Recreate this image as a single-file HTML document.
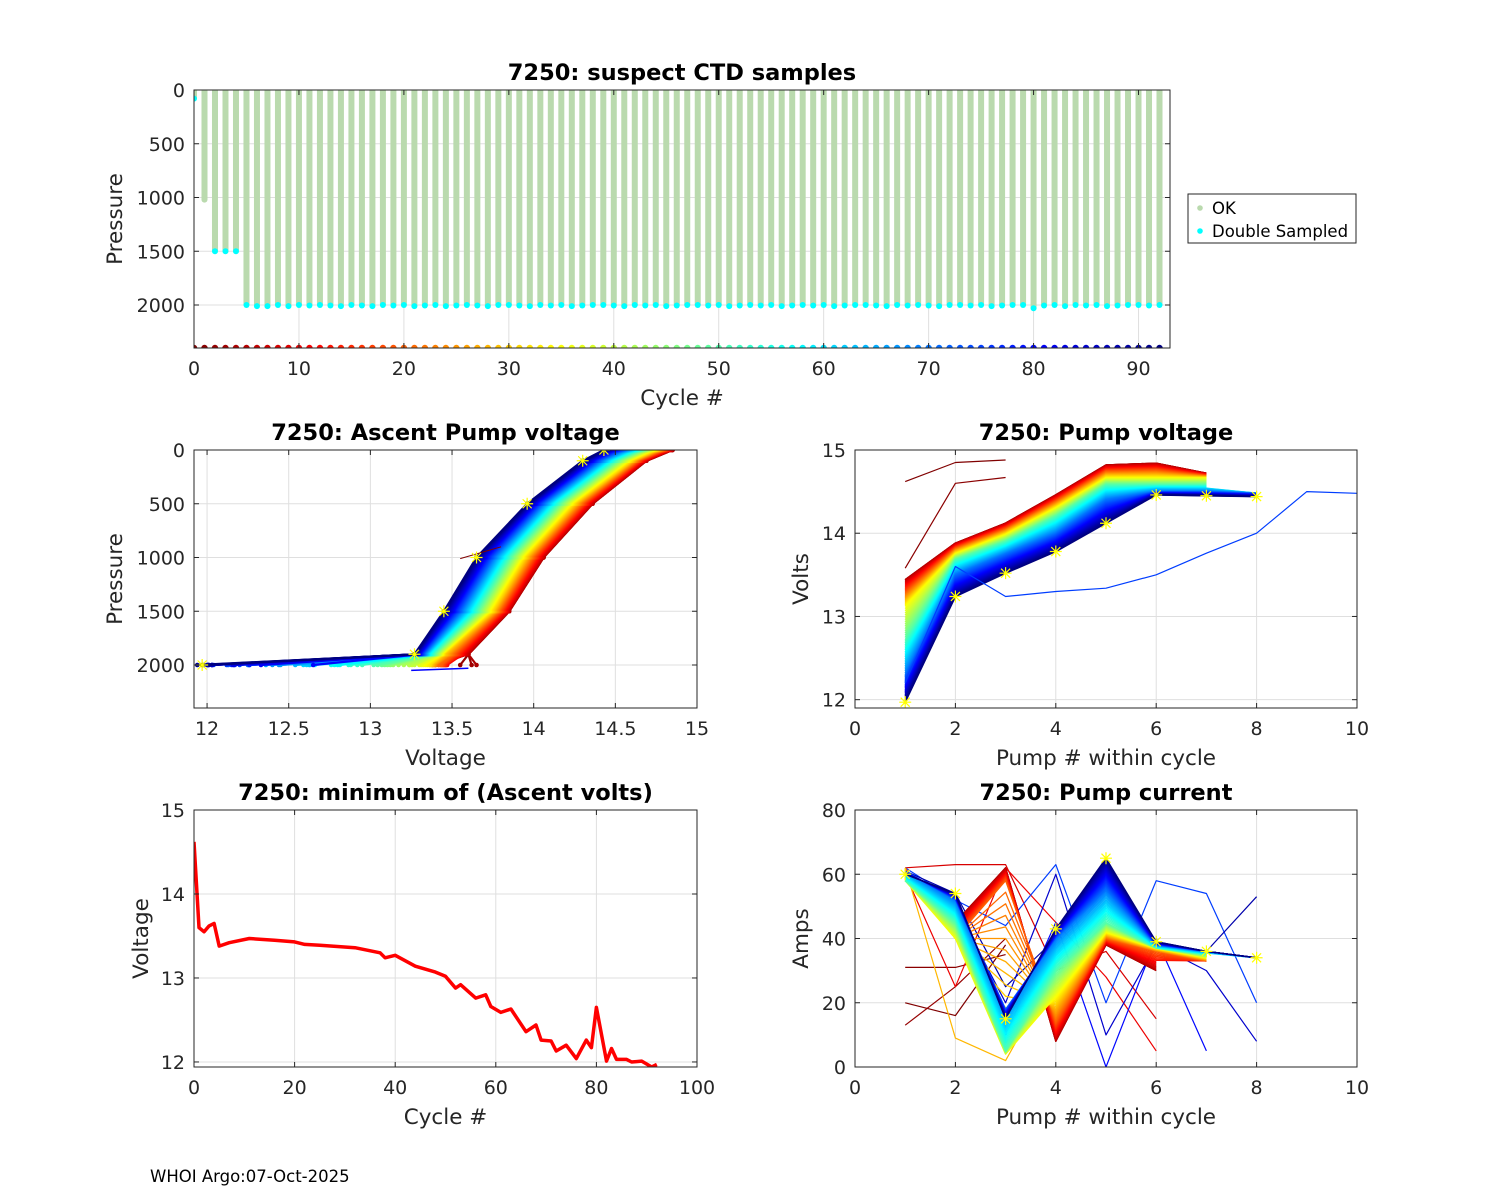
<!DOCTYPE html>
<html><head><meta charset="utf-8"><style>
html,body{margin:0;padding:0;background:#fff}
svg{display:block;font-family:"DejaVu Sans","Liberation Sans",sans-serif}
</style></head><body>
<svg id="fig" width="1500" height="1200" viewBox="0 0 1500 1200" xmlns="http://www.w3.org/2000/svg">
<rect width="1500" height="1200" fill="#fff"/>
<text x="150" y="1182" font-size="16.5" fill="#000">WHOI Argo:07-Oct-2025</text>
</svg>
<script>
// ---------- DATA ----------
const cycleNums = Array.from({length:93},(_,i)=>i);
const maxPressure = [80,1020,1500,1500,1500,2000,2010,2010,2000,2010,2000,2005,2000,2005,2010,2000,2005,2010,2000,2005,2000,2010,2005,2000,2010,2005,2000,2005,2010,2000,2000,2005,2010,2000,2005,2000,2010,2005,2000,2000,2005,2010,2000,2005,2000,2010,2005,2000,2000,2005,2000,2010,2005,2000,2005,2000,2010,2005,2000,2005,2000,2010,2005,2000,2000,2005,2010,2000,2005,2000,2005,2010,2000,2000,2005,2000,2010,2005,2000,2000,2030,2005,2000,2010,2000,2005,2000,2010,2005,2000,2000,2005,2000];
const minCycles = [0,1,2,3,4,5,7,11,16,20,22,25,32,37,38,40,44,48,50,52,53,56,58,59,61,63,66,68,69,71,72,74,76,78,79,80,82,83,84,86,87,89,91,92];
const minVolts  = [14.62,13.6,13.55,13.62,13.65,13.38,13.42,13.47,13.45,13.43,13.4,13.39,13.36,13.3,13.24,13.27,13.14,13.07,13.02,12.88,12.92,12.76,12.8,12.66,12.59,12.63,12.36,12.44,12.26,12.25,12.13,12.2,12.04,12.26,12.17,12.65,12.01,12.16,12.03,12.03,12.0,12.01,11.94,11.97];
// Ascent profiles (pressure vs voltage)
const profPress = [2000,1900,1500,1000,500,100,0];
const profKeyCycles = [5,30,60,92];
const profKey5  = [null,13.6,13.85,14.06,14.36,14.69,14.85];
const profKey30 = [null,13.45,13.75,13.95,14.25,14.6,14.75];
const profKey60 = [null,13.35,13.6,13.8,14.1,14.45,14.6];
const profKey92 = [null,13.27,13.45,13.65,13.96,14.3,14.43];
// Pump voltage by pump #
const pvKeyCycles = [5,35,50,70,92];
const pvKey5  = [13.44,13.88,14.12,14.46,14.82,14.84,14.72];
const pvKey35 = [13.12,13.75,13.98,14.3,14.66,14.66,14.66];
const pvKey50 = [12.72,13.68,13.9,14.2,14.58,14.58,14.58];
const pvKey70 = [12.3,13.5,13.75,14.0,14.4,14.5,14.5,14.48];
const pvKey92 = [11.97,13.24,13.52,13.78,14.12,14.46,14.45,14.44];
const pvOutCycles = [0,1,75];
const pvOut0 = [14.62,14.85,14.88];
const pvOut1 = [13.58,14.6,14.67];
const pvOut75 = [12.2,13.6,13.24,13.3,13.34,13.5,13.76,14.0,14.5,14.48];
// Pump current by pump #
const pcKeyCycles = [5,20,35,50,70,92];
const pcKey5  = [60,45,62,8,38,30];
const pcKey20 = [62,40,58,14,40,36,33];
const pcKey35 = [58,40,4,22,42,37,34];
const pcKey50 = [58,45,5,30,45,37,35];
const pcKey70 = [61,52,18,40,55,38,36,34];
const pcKey92 = [60,54,15,43,65,39,36,34];
const pcOutCycles = [0,1,2,8,10,28,75,80,85,88];
const pcOut0 = [20,16,38];
const pcOut1 = [31,31,35];
const pcOut2 = [13,25,40];
const pcOut8 = [62,63,63,30,36,15];
const pcOut10 = [60,25,62,45,28,5];
const pcOut28 = [62,9,2,30,40,36];
const pcOut75 = [62,52,44,63,20,58,54,20];
const pcOut80 = [60,52,10,45,0,40,5];
const pcOut85 = [60,50,20,60,10,38,30,8];
const pcOut88 = [61,54,25,40,55,39,36,53];

// ---------- HELPERS ----------
const NS='http://www.w3.org/2000/svg';
const svg=document.getElementById('fig');
function mk(tag,attrs,parent){const e=document.createElementNS(NS,tag);for(const k in attrs)e.setAttribute(k,attrs[k]);(parent||svg).appendChild(e);return e;}
function clamp(v){return Math.max(0,Math.min(1,v));}
function jet(t){const r=clamp(1.5-Math.abs(4*t-3)),g=clamp(1.5-Math.abs(4*t-2)),b=clamp(1.5-Math.abs(4*t-1));return `rgb(${Math.round(r*255)},${Math.round(g*255)},${Math.round(b*255)})`;}
function cyc(c){return jet(1-c/92);}
function lerp(a,b,f){return a+(b-a)*f;}
function interpKeys(keys,arrs,c){
  if(c<=keys[0])return arrs[0].slice();
  for(let i=0;i<keys.length-1;i++){
    if(c<=keys[i+1]){const f=(c-keys[i])/(keys[i+1]-keys[i]);const A=arrs[i],B=arrs[i+1];
      const n=f<0.5?A.length:B.length;const out=[];
      for(let j=0;j<n;j++){const a=j<A.length?A[j]:B[j],b=j<B.length?B[j]:A[j];out.push(a==null?null:lerp(a,b,f));}
      return out;}
  }
  return arrs[arrs.length-1].slice();
}
function interp1(xs,ys,x){if(x<=xs[0])return ys[0];for(let i=0;i<xs.length-1;i++){if(x<=xs[i+1]){const f=(x-xs[i])/(xs[i+1]-xs[i]);return lerp(ys[i],ys[i+1],f);}}return ys[ys.length-1];}

let clipId=0;
function makeAxes(o){
  const g=mk('g',{});
  
  
  const sx=v=>o.x0+(v-o.xmin)/(o.xmax-o.xmin)*(o.x1-o.x0);
  const sy=v=>o.yrev? o.y0+(v-o.ymin)/(o.ymax-o.ymin)*(o.y1-o.y0) : o.y1-(v-o.ymin)/(o.ymax-o.ymin)*(o.y1-o.y0);
  mk('rect',{x:o.x0,y:o.y0,width:o.x1-o.x0,height:o.y1-o.y0,fill:'#fff'},g);
  const grid=mk('g',{stroke:'#dfdfdf','stroke-width':1},g);
  
  
  o.xticks.forEach(t=>mk('line',{x1:sx(t),x2:sx(t),y1:o.y0,y2:o.y1},grid));
  o.yticks.forEach(t=>mk('line',{x1:o.x0,x2:o.x1,y1:sy(t),y2:sy(t)},grid));
  const id='clip'+(clipId++);
  const cp=mk('clipPath',{id:id},g);mk('rect',{x:o.x0,y:o.y0,width:o.x1-o.x0,height:o.y1-o.y0},cp);
  const plot=mk('g',{'clip-path':`url(#${id})`},g);
  
  
  const finish=()=>{
    const fr=mk('g',{stroke:'#262626','stroke-width':1,fill:'none'},g);
    mk('rect',{x:o.x0,y:o.y0,width:o.x1-o.x0,height:o.y1-o.y0},fr);
    o.xticks.forEach(t=>{mk('line',{x1:sx(t),x2:sx(t),y1:o.y1,y2:o.y1-5},fr);mk('line',{x1:sx(t),x2:sx(t),y1:o.y0,y2:o.y0+5},fr);});
    o.yticks.forEach(t=>{mk('line',{x1:o.x0,x2:o.x0+5,y1:sy(t),y2:sy(t)},fr);mk('line',{x1:o.x1,x2:o.x1-5,y1:sy(t),y2:sy(t)},fr);});
    o.xticks.forEach(t=>{const e=mk('text',{x:sx(t),y:o.y1+27,'text-anchor':'middle','font-size':19,fill:'#262626'},g);e.textContent=String(t);
      });
    o.yticks.forEach(t=>{const e=mk('text',{x:o.x0-9,y:sy(t)+7,'text-anchor':'end','font-size':19,fill:'#262626'},g);e.textContent=String(t);
      });
    const tt=mk('text',{x:(o.x0+o.x1)/2,y:o.y0-10,'text-anchor':'middle','font-size':22.5,'font-weight':'bold',fill:'#000'},g);tt.textContent=o.title;
    
    const xl=mk('text',{x:(o.x0+o.x1)/2,y:o.y1+57,'text-anchor':'middle','font-size':21.5,fill:'#262626'},g);xl.textContent=o.xlabel;
    
    const yl=mk('text',{transform:`translate(${o.ylx},${(o.y0+o.y1)/2}) rotate(-90)`,'text-anchor':'middle','font-size':21.5,fill:'#262626'},g);yl.textContent=o.ylabel;
    
  };
  return {g,plot,sx,sy,finish};
}
function polyline(parent,pts,color,w,name){
  const p=mk('polyline',{points:pts.map(q=>q[0].toFixed(1)+','+q[1].toFixed(1)).join(' '),fill:'none',stroke:color,'stroke-width':w,'stroke-linejoin':'round'},parent);
  
  
  return p;
}
function star(parent,x,y){
  const s=mk('path',{d:`M${x-6},${y}H${x+6}M${x},${y-6}V${y+6}M${x-4.5},${y-4.5}L${x+4.5},${y+4.5}M${x-4.5},${y+4.5}L${x+4.5},${y-4.5}`,stroke:'#ffff00','stroke-width':1.2,fill:'none'},parent);
  
  
}

// ---------- TOP: suspect CTD samples ----------
(function(){
  const A=makeAxes({name:'suspect-ctd-chart',x0:194,x1:1170,y0:90,y1:348,xmin:0,xmax:93,ymin:0,ymax:2400,yrev:true,
    xticks:[0,10,20,30,40,50,60,70,80,90],yticks:[0,500,1000,1500,2000],title:'7250: suspect CTD samples',xlabel:'Cycle #',ylabel:'Pressure',ylx:122});
  cycleNums.forEach((c,i)=>{
    const x=A.sx(c),yb=A.sy(maxPressure[i]);
    const r=mk('rect',{x:x-3,y:A.sy(0),width:6,height:yb-A.sy(0),fill:'#badaae'},A.plot);
    
    
    const ds=i===1?'#badaae':'#00ffff';
    const d=mk('circle',{cx:x,cy:yb,r:3,fill:ds},A.plot);
    
    
    const b=mk('circle',{cx:x,cy:A.sy(2400),r:3.2,fill:cyc(c)},A.plot);
    
    
  });
  A.finish();
  const lg=mk('g',{});
  
  
  mk('rect',{x:1188,y:194,width:168,height:49,fill:'#fff',stroke:'#262626','stroke-width':1},lg);
  mk('circle',{cx:1200,cy:208,r:2.8,fill:'#badaae'},lg);
  mk('circle',{cx:1200,cy:231,r:2.8,fill:'#00ffff'},lg);
  const t1=mk('text',{x:1212,y:214,'font-size':16.5,fill:'#000'},lg);t1.textContent='OK';
  
  const t2=mk('text',{x:1212,y:237,'font-size':16.5,fill:'#000'},lg);t2.textContent='Double Sampled';
  
})();

// ---------- MIDDLE LEFT: Ascent pump voltage ----------
(function(){
  const A=makeAxes({name:'ascent-pump-voltage-chart',x0:194,x1:697,y0:450,y1:708,xmin:11.92,xmax:15,ymin:0,ymax:2400,yrev:true,
    xticks:[12,12.5,13,13.5,14,14.5,15],yticks:[0,500,1000,1500,2000],title:'7250: Ascent Pump voltage',xlabel:'Voltage',ylabel:'Pressure',ylx:122});
  const keys=[profKey5,profKey30,profKey60,profKey92];
  let last=null;
  for(let c=2;c<=92;c++){
    const v=interpKeys(profKeyCycles,keys,c);
    v[0]=interp1(minCycles,minVolts,c);
    const pts=profPress.map((p,j)=>[A.sx(v[j]),A.sy(p)]);
    polyline(A.plot,pts,cyc(c),2.2,'ascent-profile');
    pts.forEach(q=>{const d=mk('circle',{cx:q[0],cy:q[1],r:2.3,fill:cyc(c)},A.plot);
      });
    last=pts;
  }
  polyline(A.plot,[[A.sx(13.25),A.sy(2050)],[A.sx(13.6),A.sy(2030)]],'#0000ff',1.5,'outlier-profile');
  polyline(A.plot,[[A.sx(13.55),A.sy(1010)],[A.sx(13.8),A.sy(900)]],'#800000',1,'outlier-profile');
  last.forEach(q=>star(A.plot,q[0],q[1]));
  A.finish();
})();

// ---------- MIDDLE RIGHT: Pump voltage ----------
(function(){
  const A=makeAxes({name:'pump-voltage-chart',x0:855,x1:1357,y0:450,y1:708,xmin:0,xmax:10,ymin:11.9,ymax:15,
    xticks:[0,2,4,6,8,10],yticks:[12,13,14,15],title:'7250: Pump voltage',xlabel:'Pump # within cycle',ylabel:'Volts',ylx:808});
  const keys=[pvKey5,pvKey35,pvKey50,pvKey70,pvKey92];
  let last=null;
  for(let c=2;c<=92;c++){
    const v=interpKeys(pvKeyCycles,keys,c);
    last=v.map((y,j)=>[A.sx(j+1),A.sy(y)]);
    polyline(A.plot,last,cyc(c),1.6,'pump-voltage-line');
  }
  const outs=[pvOut0,pvOut1,pvOut75];
  pvOutCycles.forEach((c,i)=>polyline(A.plot,outs[i].map((y,j)=>[A.sx(j+1),A.sy(y)]),cyc(c),1.2,'pump-voltage-outlier'));
  last.forEach(q=>star(A.plot,q[0],q[1]));
  A.finish();
})();

// ---------- BOTTOM LEFT: minimum ascent volts ----------
(function(){
  const A=makeAxes({name:'min-ascent-volts-chart',x0:194,x1:697,y0:810,y1:1067,xmin:0,xmax:100,ymin:11.94,ymax:15,
    xticks:[0,20,40,60,80,100],yticks:[12,13,14,15],title:'7250: minimum of (Ascent volts)',xlabel:'Cycle #',ylabel:'Voltage',ylx:148});
  polyline(A.plot,minCycles.map((c,i)=>[A.sx(c),A.sy(minVolts[i])]),'#ff0000',3.5,'min-volts-line');
  A.finish();
})();

// ---------- BOTTOM RIGHT: Pump current ----------
(function(){
  const A=makeAxes({name:'pump-current-chart',x0:855,x1:1357,y0:810,y1:1067,xmin:0,xmax:10,ymin:0,ymax:80,
    xticks:[0,2,4,6,8,10],yticks:[0,20,40,60,80],title:'7250: Pump current',xlabel:'Pump # within cycle',ylabel:'Amps',ylx:808});
  const keys=[pcKey5,pcKey20,pcKey35,pcKey50,pcKey70,pcKey92];
  const outs=[pcOut0,pcOut1,pcOut2,pcOut8,pcOut10,pcOut28,pcOut75,pcOut80,pcOut85,pcOut88];
  pcOutCycles.forEach((c,i)=>polyline(A.plot,outs[i].map((y,j)=>[A.sx(j+1),A.sy(y)]),cyc(c),1.2,'pump-current-outlier'));
  let last=null;
  for(let c=3;c<=92;c++){
    const v=interpKeys(pcKeyCycles,keys,c);
    last=v.map((y,j)=>[A.sx(j+1),A.sy(y)]);
    polyline(A.plot,last,cyc(c),1.3,'pump-current-line');
  }
  last.forEach(q=>star(A.plot,q[0],q[1]));
  A.finish();
})();
</script>
</body></html>
